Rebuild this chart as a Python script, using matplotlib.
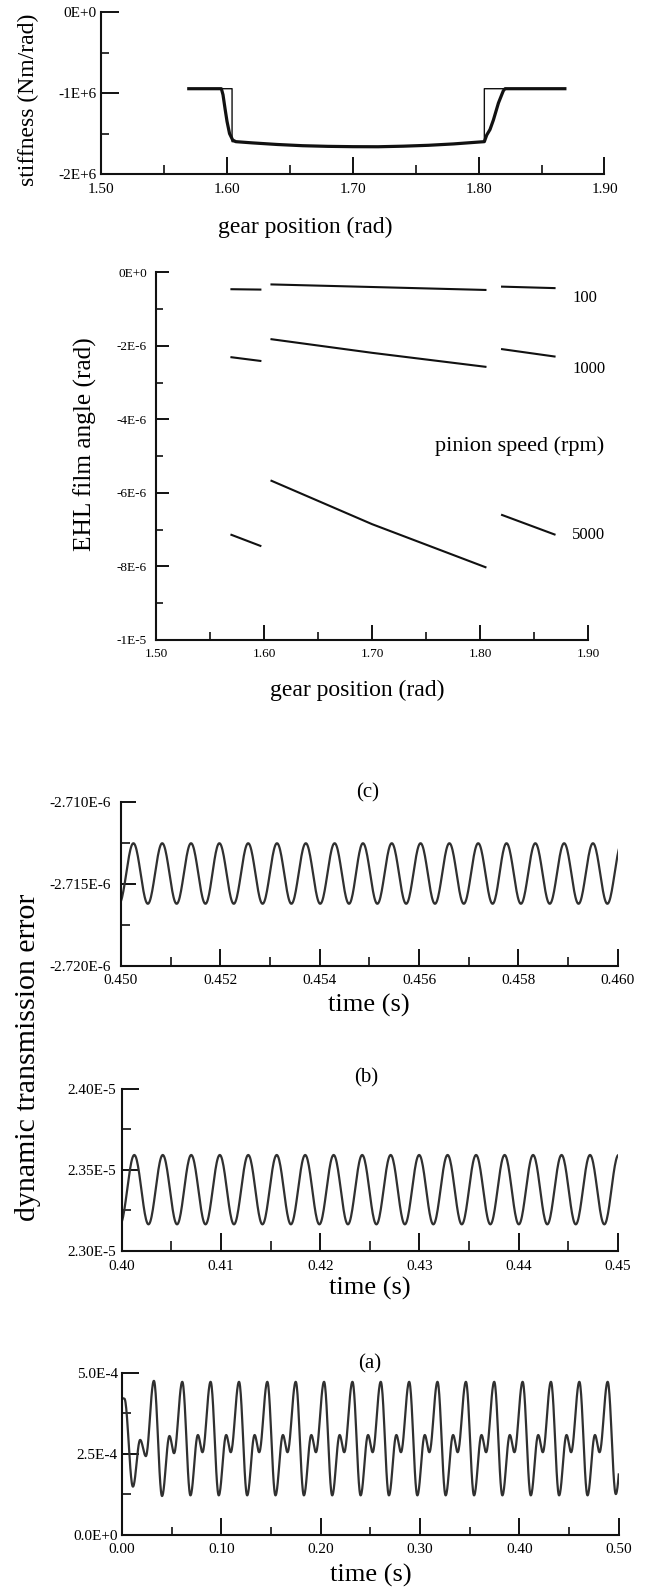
import numpy as np
import matplotlib
matplotlib.use("Agg")
import matplotlib.pyplot as plt
from matplotlib.ticker import FixedLocator, FixedFormatter

plt.rcParams['font.family'] = ['Liberation Serif', 'DejaVu Serif']

# ---------------- data ----------------
# Panel 1: mesh stiffness vs gear position
stiff_thin_x = [1.5696, 1.6040, 1.6040, 1.607, 1.62, 1.64, 1.66, 1.68, 1.70, 1.72, 1.74, 1.76, 1.78,
                1.80, 1.8045, 1.8045, 1.8685]
stiff_thin_y = [-0.945e6, -0.945e6, -1.600e6, -1.600e6, -1.615e6, -1.635e6, -1.650e6, -1.658e6,
                -1.662e6, -1.663e6, -1.656e6, -1.645e6, -1.628e6, -1.605e6, -1.600e6, -0.945e6, -0.945e6]
stiff_thick_x = [1.5696, 1.5955, 1.5968, 1.5985, 1.600, 1.602, 1.6045, 1.607, 1.62, 1.64, 1.66, 1.68,
                 1.70, 1.72, 1.74, 1.76, 1.78, 1.80, 1.8045, 1.8064, 1.809, 1.8117, 1.8157, 1.8196,
                 1.821, 1.8685]
stiff_thick_y = [-0.945e6, -0.945e6, -1.02e6, -1.20e6, -1.35e6, -1.50e6, -1.58e6, -1.600e6, -1.615e6,
                 -1.635e6, -1.650e6, -1.658e6, -1.662e6, -1.663e6, -1.656e6, -1.645e6, -1.628e6,
                 -1.605e6, -1.600e6, -1.518e6, -1.45e6, -1.332e6, -1.122e6, -0.970e6, -0.945e6, -0.945e6]

# Panel 2: EHL film angle, three segments per pinion speed
ehl_speeds = ["100", "1000", "5000"]
ehl_seg_x = [[1.5697, 1.5965], [1.6068, 1.70, 1.805], [1.8204, 1.869]]
ehl_100 = [[-0.46e-6, -0.47e-6], [-0.33e-6, -0.40e-6, -0.48e-6], [-0.39e-6, -0.43e-6]]
ehl_1000 = [[-2.31e-6, -2.41e-6], [-1.82e-6, -2.19e-6, -2.57e-6], [-2.09e-6, -2.29e-6]]
ehl_5000 = [[-7.14e-6, -7.44e-6], [-5.67e-6, -6.85e-6, -8.02e-6], [-6.60e-6, -7.13e-6]]
ehl_label_y = [-0.71e-6, -2.64e-6, -7.14e-6]

# Panel (c): extrema of the dynamic transmission error (rad)
c_time = [0.44996, 0.45025, 0.45054, 0.45083, 0.45112, 0.45141, 0.45170, 0.45198, 0.45227,
          0.45256, 0.45285, 0.45314, 0.45343, 0.45372, 0.45401, 0.45430, 0.45459, 0.45487,
          0.45516, 0.45545, 0.45574, 0.45603, 0.45632, 0.45661, 0.45690, 0.45719, 0.45748,
          0.45776, 0.45805, 0.45834, 0.45863, 0.45892, 0.45921, 0.45950, 0.45979, 0.46008]
c_value = [-2.7162e-6, -2.7125e-6, -2.7162e-6, -2.7125e-6, -2.7162e-6, -2.7125e-6, -2.7162e-6,
           -2.7125e-6, -2.7162e-6, -2.7125e-6, -2.7162e-6, -2.7125e-6, -2.7162e-6, -2.7125e-6,
           -2.7162e-6, -2.7125e-6, -2.7162e-6, -2.7125e-6, -2.7162e-6, -2.7125e-6, -2.7162e-6,
           -2.7125e-6, -2.7162e-6, -2.7125e-6, -2.7162e-6, -2.7125e-6, -2.7162e-6, -2.7125e-6,
           -2.7162e-6, -2.7125e-6, -2.7162e-6, -2.7125e-6, -2.7162e-6, -2.7125e-6, -2.7162e-6,
           -2.7125e-6]

# Panel (b)
b_time = [0.39981, 0.40125, 0.40268, 0.40412, 0.40556, 0.40699, 0.40843, 0.40987, 0.41130,
          0.41274, 0.41417, 0.41561, 0.41704, 0.41848, 0.41991, 0.42135, 0.42279, 0.42423,
          0.42566, 0.42710, 0.42853, 0.42997, 0.43140, 0.43284, 0.43427, 0.43571, 0.43715,
          0.43859, 0.44002, 0.44146, 0.44289, 0.44433, 0.44576, 0.44720, 0.44864, 0.45007]
b_value = [2.3163e-5, 2.3592e-5, 2.3163e-5, 2.3592e-5, 2.3163e-5, 2.3592e-5, 2.3163e-5, 2.3592e-5,
           2.3163e-5, 2.3592e-5, 2.3163e-5, 2.3592e-5, 2.3163e-5, 2.3592e-5, 2.3163e-5, 2.3592e-5,
           2.3163e-5, 2.3592e-5, 2.3163e-5, 2.3592e-5, 2.3163e-5, 2.3592e-5, 2.3163e-5, 2.3592e-5,
           2.3163e-5, 2.3592e-5, 2.3163e-5, 2.3592e-5, 2.3163e-5, 2.3592e-5, 2.3163e-5, 2.3592e-5,
           2.3163e-5, 2.3592e-5, 2.3163e-5, 2.3592e-5]

# Panel (a)
a_time = [0.0000, 0.0025, 0.0111, 0.0184, 0.0241,
          0.0322, 0.0404, 0.0479, 0.0525,
          0.0608, 0.0690, 0.0765, 0.0811,
          0.0893, 0.0975, 0.1050, 0.1096,
          0.1179, 0.1261, 0.1336, 0.1382,
          0.1464, 0.1546, 0.1621, 0.1667,
          0.1750, 0.1832, 0.1907, 0.1953,
          0.2035, 0.2117, 0.2192, 0.2238,
          0.2321, 0.2403, 0.2478, 0.2524,
          0.2606, 0.2688, 0.2763, 0.2809,
          0.2892, 0.2974, 0.3049, 0.3095,
          0.3177, 0.3259, 0.3334, 0.3380,
          0.3463, 0.3545, 0.3620, 0.3666,
          0.3748, 0.3830, 0.3905, 0.3951,
          0.4034, 0.4116, 0.4191, 0.4237,
          0.4319, 0.4401, 0.4476, 0.4522,
          0.4605, 0.4687, 0.4762, 0.4808,
          0.4890, 0.4972, 0.5047]
a_value = [4.22e-4, 4.20e-4, 1.49e-4, 2.93e-4, 2.43e-4,
           4.75e-4, 1.20e-4, 3.05e-4, 2.52e-4,
           4.72e-4, 1.22e-4, 3.08e-4, 2.55e-4,
           4.72e-4, 1.22e-4, 3.08e-4, 2.55e-4,
           4.72e-4, 1.22e-4, 3.08e-4, 2.55e-4,
           4.72e-4, 1.22e-4, 3.08e-4, 2.55e-4,
           4.72e-4, 1.22e-4, 3.08e-4, 2.55e-4,
           4.72e-4, 1.22e-4, 3.08e-4, 2.55e-4,
           4.72e-4, 1.22e-4, 3.08e-4, 2.55e-4,
           4.72e-4, 1.22e-4, 3.08e-4, 2.55e-4,
           4.72e-4, 1.22e-4, 3.08e-4, 2.55e-4,
           4.72e-4, 1.22e-4, 3.08e-4, 2.55e-4,
           4.72e-4, 1.22e-4, 3.08e-4, 2.55e-4,
           4.72e-4, 1.22e-4, 3.08e-4, 2.55e-4,
           4.72e-4, 1.22e-4, 3.08e-4, 2.55e-4,
           4.72e-4, 1.22e-4, 3.08e-4, 2.55e-4,
           4.72e-4, 1.22e-4, 3.08e-4, 2.55e-4,
           4.72e-4, 1.26e-4, 3.08e-4]

# tick labels
gear_ticks = [1.50, 1.60, 1.70, 1.80, 1.90]
gear_minor = [1.55, 1.65, 1.75, 1.85]
gear_labels = ["1.50", "1.60", "1.70", "1.80", "1.90"]
stiff_ticks = [0.0, -1e6, -2e6]
stiff_minor = [-0.5e6, -1.5e6]
stiff_labels = ["0E+0", "-1E+6", "-2E+6"]
ehl_ticks = [0.0, -2e-6, -4e-6, -6e-6, -8e-6, -1e-5]
ehl_minor = [-1e-6, -3e-6, -5e-6, -7e-6, -9e-6]
ehl_labels = ["0E+0", "-2E-6", "-4E-6", "-6E-6", "-8E-6", "-1E-5"]
c_xticks = [0.450, 0.452, 0.454, 0.456, 0.458, 0.460]
c_xminor = [0.451, 0.453, 0.455, 0.457, 0.459]
c_xlabels = ["0.450", "0.452", "0.454", "0.456", "0.458", "0.460"]
c_yticks = [-2.710e-6, -2.715e-6, -2.720e-6]
c_yminor = [-2.7125e-6, -2.7175e-6]
c_ylabels = ["-2.710E-6", "-2.715E-6", "-2.720E-6"]
b_xticks = [0.40, 0.41, 0.42, 0.43, 0.44, 0.45]
b_xminor = [0.405, 0.415, 0.425, 0.435, 0.445]
b_xlabels = ["0.40", "0.41", "0.42", "0.43", "0.44", "0.45"]
b_yticks = [2.30e-5, 2.35e-5, 2.40e-5]
b_yminor = [2.325e-5, 2.375e-5]
b_ylabels = ["2.30E-5", "2.35E-5", "2.40E-5"]
a_xticks = [0.0, 0.1, 0.2, 0.3, 0.4, 0.5]
a_xminor = [0.05, 0.15, 0.25, 0.35, 0.45]
a_xlabels = ["0.00", "0.10", "0.20", "0.30", "0.40", "0.50"]
a_yticks = [0.0, 2.5e-4, 5.0e-4]
a_yminor = [1.25e-4, 3.75e-4]
a_ylabels = ["0.0E+0", "2.5E-4", "5.0E-4"]

# ---------------- helpers ----------------
W, H = 648, 1589
fig = plt.figure(figsize=(W / 100, H / 100), dpi=100)


def px_axes(l, t, r, b):
    return fig.add_axes([l / W, 1 - b / H, (r - l) / W, (b - t) / H])


def ftext(x, y, s, **kw):
    fig.text(x / W, 1 - y / H, s, ha='center', va='center', **kw)


def style(ax, xlim, ylim, xt, xm, xl, yt, ym, yl, fs, ylen, xlen, ypad, xpad):
    ax.set_xlim(*xlim)
    ax.set_ylim(*ylim)
    for s in ('top', 'right'):
        ax.spines[s].set_visible(False)
    for s in ('left', 'bottom'):
        ax.spines[s].set_linewidth(1.5)
        ax.spines[s].set_color('#111111')
    ax.xaxis.set_major_locator(FixedLocator(xt))
    ax.xaxis.set_major_formatter(FixedFormatter(xl))
    ax.xaxis.set_minor_locator(FixedLocator(xm))
    ax.yaxis.set_major_locator(FixedLocator(yt))
    ax.yaxis.set_major_formatter(FixedFormatter(yl))
    ax.yaxis.set_minor_locator(FixedLocator(ym))
    ax.tick_params(axis='y', which='major', direction='in', length=ylen[0] * 0.72, width=1.4,
                   pad=ypad, labelsize=fs, color='#111111')
    ax.tick_params(axis='y', which='minor', direction='in', length=ylen[1] * 0.72, width=1.2,
                   color='#111111')
    ax.tick_params(axis='x', which='major', direction='in', length=xlen[0] * 0.72, width=1.4,
                   pad=xpad, labelsize=fs, color='#111111')
    ax.tick_params(axis='x', which='minor', direction='in', length=xlen[1] * 0.72, width=1.2,
                   color='#111111')
    ax.patch.set_alpha(0)


def smooth(ts, vs, n=24):
    # draws a smooth curve through successive extrema (zero slope at each)
    out_t, out_v = [ts[0]], [vs[0]]
    u = np.linspace(0, 1, n)[1:]
    w = (1 - np.cos(np.pi * u)) / 2
    for i in range(len(ts) - 1):
        out_t.extend(ts[i] + (ts[i + 1] - ts[i]) * u)
        out_v.extend(vs[i] + (vs[i + 1] - vs[i]) * w)
    return np.array(out_t), np.array(out_v)


# ---------------- panel 1: stiffness ----------------
ax1 = px_axes(101.2, 12.3, 604.5, 174)
ax1.plot(stiff_thin_x, stiff_thin_y, color='#111111', lw=1.0)
ax1.plot(stiff_thick_x, stiff_thick_y, color='#111111', lw=2.3, solid_joinstyle='round')
style(ax1, (1.5, 1.9), (-2e6, 0), gear_ticks, gear_minor, gear_labels,
      stiff_ticks, stiff_minor, stiff_labels, 11, (18, 8), (17, 9), 3.6, 6.8)
ftext(28, 100, "stiffness (Nm/rad)", rotation=90, fontsize=17)
ftext(305, 227, "gear position (rad)", fontsize=17)

# ---------------- panel 2: EHL film angle ----------------
ax2 = px_axes(156.2, 272.3, 588, 640)
for series in (ehl_100, ehl_1000, ehl_5000):
    for xs, ys in zip(ehl_seg_x, series):
        ax2.plot(xs, ys, color='#111111', lw=1.5)
for lab, ly in zip(ehl_speeds, ehl_label_y):
    ax2.text(1.8855, ly, lab, fontsize=12, ha='left', va='center', clip_on=False)
ax2.text(1.915, -4.72e-6, "pinion speed (rpm)", fontsize=16, ha='right', va='center', clip_on=False)
style(ax2, (1.5, 1.9), (-1e-5, 0), gear_ticks, gear_minor, gear_labels,
      ehl_ticks, ehl_minor, ehl_labels, 9.5, (13, 7), (15, 8), 6.8, 5.7)
ftext(85, 444, "EHL film angle (rad)", rotation=90, fontsize=18.3)
ftext(357, 690, "gear position (rad)", fontsize=17)

# ---------------- panel (c) ----------------
axc = px_axes(121, 802.3, 617.8, 966)
tc, vc = smooth(c_time, c_value)
axc.plot(tc, vc, color='#303030', lw=1.6)
style(axc, (0.450, 0.460), (-2.720e-6, -2.710e-6), c_xticks, c_xminor, c_xlabels,
      c_yticks, c_yminor, c_ylabels, 11, (15, 9), (17.5, 9), 7, 6)
ftext(368, 793, "(c)", fontsize=15)
ftext(369, 1005, "time (s)", fontsize=19)

# ---------------- panel (b) ----------------
axb = px_axes(121.9, 1089, 617.8, 1250.7)
tb, vb = smooth(b_time, b_value)
axb.plot(tb, vb, color='#303030', lw=1.6)
style(axb, (0.40, 0.45), (2.30e-5, 2.40e-5), b_xticks, b_xminor, b_xlabels,
      b_yticks, b_yminor, b_ylabels, 11, (16.5, 8.5), (18, 10), 4, 6.7)
ftext(366, 1078, "(b)", fontsize=15)
ftext(370, 1288, "time (s)", fontsize=19)

# ---------------- panel (a) ----------------
axa = px_axes(121.9, 1372.7, 618.6, 1535)
ta, va = smooth(a_time, a_value)
axa.plot(ta, va, color='#303030', lw=1.6)
style(axa, (0.0, 0.5), (0.0, 5.0e-4), a_xticks, a_xminor, a_xlabels,
      a_yticks, a_yminor, a_ylabels, 11, (16.5, 8.5), (17.5, 8.5), 3, 6)
ftext(370, 1364, "(a)", fontsize=15)
ftext(371, 1575, "time (s)", fontsize=19)

# shared label
ftext(28, 1057, "dynamic transmission error", rotation=90, fontsize=21.5)

fig.savefig("out.png", dpi=100, facecolor='white')
